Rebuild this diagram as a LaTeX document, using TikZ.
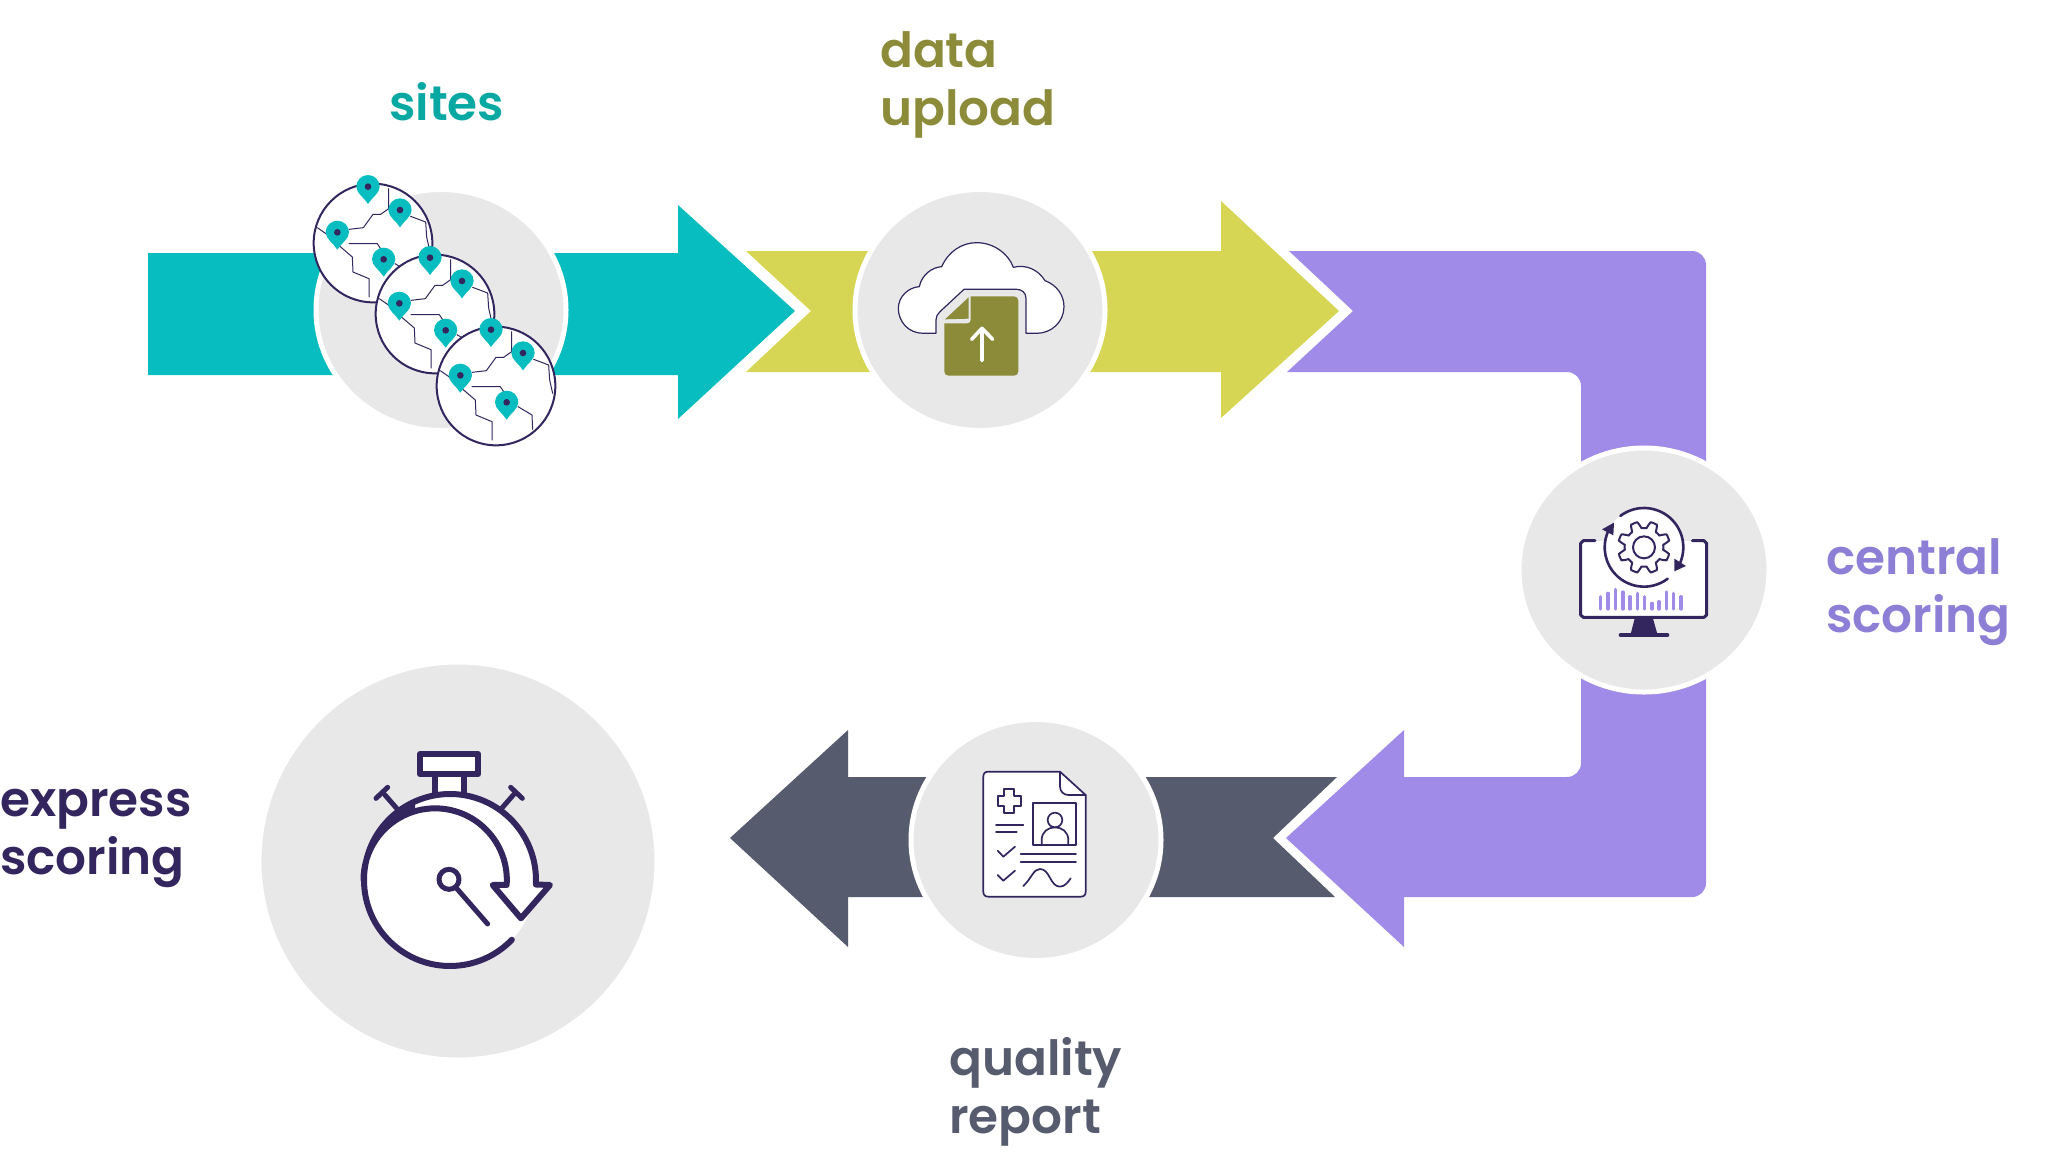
\documentclass[tikz,border=0pt]{standalone}
\usepackage{fontspec}
\setmainfont{Poppins}[BoldFont=Poppins SemiBold]
\usetikzlibrary{shapes.geometric}
\definecolor{tealband}{HTML}{08BDBF}
\definecolor{tealtext}{HTML}{0AA8A2}
\definecolor{limeband}{HTML}{D6D654}
\definecolor{olivetext}{HTML}{8B8B3A}
\definecolor{purpleband}{HTML}{A18BE8}
\definecolor{purpletext}{HTML}{8E7FD6}
\definecolor{slateband}{HTML}{565B6E}
\definecolor{navyline}{HTML}{33265F}
\definecolor{hubgray}{HTML}{E8E8E8}
\tikzset{
    hub/.style={ellipse, fill=hubgray, draw=white, line width=5pt, inner sep=0pt},
    steplabel/.style={anchor=west, align=left, inner sep=0pt, font=\fontsize{48.5}{58}\selectfont\bfseries},
    iconline/.style={draw=navyline, line cap=round, line join=round},
    zoomed/.style={x=0.3333pt, y=-0.3333pt}
}
\begin{document}
\begin{tikzpicture}[x=1pt, y=-1pt]
    \useasboundingbox (0,0) rectangle (2048,1168);

    % Draw the bands
    \fill[tealband] (148,253) -- (678,253) -- (678,205) -- (795,311) -- (678,419) -- (678,375) -- (148,375) -- cycle;
    \fill[limeband] (746,251) -- (1221,251) -- (1221,201) -- (1339,311) -- (1221,418) -- (1221,372) -- (746,372) -- (811,311) -- cycle;
    \fill[purpleband] (1289,251) [rounded corners=14pt] -- (1706,251) -- (1706,897) [sharp corners] -- (1404,897) -- (1404,947) -- (1286,838) -- (1404,730) -- (1404,777) [rounded corners=14pt] -- (1581,777) -- (1581,372) [sharp corners] -- (1287,372) -- (1353,311) -- cycle;
    \fill[slateband] (1337,777) -- (848,777) -- (848,730) -- (730,838) -- (848,947) -- (848,897) -- (1335,897) -- (1273,838) -- cycle;

    % Draw the hubs
    \node[hub, minimum width=250pt, minimum height=241pt] (sitesHub) at (441,310) {};
    \node[hub, minimum width=250pt, minimum height=241pt] (uploadHub) at (980,310) {};
    \node[hub, minimum width=250pt, minimum height=244pt] (centralHub) at (1644,570) {};
    \node[hub, minimum width=250pt, minimum height=241pt] (reportHub) at (1036,840) {};
    \node[hub, minimum width=398pt, minimum height=398pt] (expressHub) at (458,861) {};

    % Label the steps
    \node[steplabel, text=tealtext] (sitesLabel) at (389,102) {sites};
    \node[steplabel, text=olivetext] (uploadLabel) at (880,85) {data\\upload};
    \node[steplabel, text=purpletext] (centralLabel) at (1826,592) {central\\scoring};
    \node[steplabel, text=navyline] (expressLabel) at (0,838) {express\\scoring};
    \node[steplabel, text=slateband] (reportLabel) at (949,1092) {quality\\report};

    % Three globes, each with its borders and four pins
    \foreach \gx/\gy in {373/243, 435/314, 496/386} {
        \begin{scope}[shift={(\gx,\gy)}, zoomed]
            \draw[iconline, fill=white, line width=2pt] (0,0) circle[radius=178];
            \draw[iconline, line width=1pt] (47,-163) -- (47,-103) -- (23,-86) -- (0,-86) -- (-29,-46) -- (-72,-41);
            \draw[iconline, line width=1pt] (113,-80) -- (158,-63) -- (161,-18) -- (170,22);
            \draw[iconline, line width=1pt] (-167,-46) -- (-127,-18) -- (-97,12) -- (-62,42) -- (-60,87) -- (-12,107) -- (-12,162);
            \draw[iconline, line width=1pt] (-72,2) -- (13,2) -- (23,17);
            \draw[iconline, line width=1pt] (66,62) -- (108,87) -- (110,130);
            \foreach \px/\py in {-15/-169, 81/-99, -107/-32, 32/49} {
                \fill[tealband] (\px,\py+52) .. controls (\px-12,\py+32) and (\px-35,\py+20) .. (\px-35,\py) arc[start angle=180, end angle=360, radius=35] .. controls (\px+35,\py+20) and (\px+12,\py+32) .. (\px,\py+52) -- cycle;
                \fill[navyline] (\px,\py) circle[radius=10];
            }
        \end{scope}
    }

    % Cloud with the uploaded sheet
    \begin{scope}[shift={(860,190)}, zoomed]
        \draw[iconline, fill=white, line width=1.2pt] (228,430) -- (190,430) .. controls (145,430) and (115,395) .. (115,355) .. controls (115,320) and (145,292) .. (178,290) .. controls (185,255) and (215,232) .. (245,230) .. controls (265,185) and (305,158) .. (350,158) .. controls (400,158) and (445,190) .. (460,232) .. controls (500,222) and (535,240) .. (555,272) .. controls (590,285) and (612,315) .. (612,350) .. controls (612,395) and (575,430) .. (530,430) -- (498,430) -- (498,325) .. controls (498,308) and (485,298) .. (470,298) -- (312,298) -- (240,365) .. controls (232,372) and (228,380) .. (228,390) -- cycle;
        \fill[olivetext] (332,319) -- (462,319) .. controls (470,319) and (475,325) .. (475,332) -- (475,544) .. controls (475,552) and (470,557) .. (462,557) -- (266,557) .. controls (258,557) and (253,552) .. (253,544) -- (253,400) -- (322,400) .. controls (328,400) and (332,396) .. (332,390) -- cycle;
        \fill[olivetext] (326,322) -- (326,386) -- (255,388) -- cycle;
        \draw[white, line width=3.6pt, line cap=round, line join=round] (366,512) -- (366,415) (335,448) -- (366,415) -- (398,448);
    \end{scope}

    % Monitor with the gear
    \begin{scope}[shift={(1530,460)}, zoomed]
        \fill[white] (152,242) rectangle (530,472);
        \fill[white] (342,262) circle[radius=118];
        \draw[iconline, line width=3pt] (195,242) -- (160,242) -- (152,250) -- (152,465) -- (160,472) -- (522,472) -- (530,465) -- (530,250) -- (522,242) -- (487,242);
        \fill[navyline] (315,472) -- (368,472) -- (382,522) -- (302,522) -- cycle;
        \draw[iconline, line width=4pt] (272,525) -- (412,525);
        \draw[iconline, line width=2pt] plot[domain=0:360, samples=145, smooth] ({342+(68-10*max(min(2*cos(8*\x),1),-1))*cos(\x)}, {262+(68-10*max(min(2*cos(8*\x),1),-1))*sin(\x)}) -- cycle;
        \draw[iconline, line width=2pt] (342,262) circle[radius=33];
        \draw[iconline, line width=2.6pt] (342,262) ++(-127:118) arc[start angle=-127, end angle=33, radius=118];
        \draw[iconline, line width=2.6pt] (342,262) ++(53:118) arc[start angle=53, end angle=210, radius=118];
        \fill[navyline] (433,296) -- (468,318) -- (433,334) -- cycle;
        \fill[navyline] (252,188) -- (216,208) -- (250,226) -- cycle;
        \foreach \bx/\bt in {212/407, 234/397, 257/385, 279/393, 300/407, 322/397, 344/407, 366/427, 387/422, 409/393, 431/397, 453/407} {
            \draw[purpleband, line width=3.3pt, line cap=round] (\bx,\bt+3) -- (\bx,447);
        }
    \end{scope}

    % Report sheet
    \begin{scope}[shift={(950,750)}, zoomed]
        \draw[iconline, fill=white, line width=1.7pt] (115,65) -- (330,65) -- (407,135) -- (407,425) .. controls (407,435) and (402,440) .. (392,440) -- (115,440) .. controls (105,440) and (100,435) .. (100,425) -- (100,80) .. controls (100,70) and (105,65) .. (115,65) -- cycle;
        \draw[iconline, line width=1.7pt] (330,65) -- (330,110) .. controls (330,125) and (342,135) .. (355,135) -- (407,135);
        \draw[iconline, line width=1.7pt] (163,118) -- (193,118) -- (193,138) -- (213,138) -- (213,168) -- (193,168) -- (193,190) -- (163,190) -- (163,168) -- (143,168) -- (143,138) -- (163,138) -- cycle;
        \draw[iconline, line width=1.7pt] (250,160) rectangle (377,285);
        \draw[iconline, line width=1.7pt] (315,210) circle[radius=22];
        \draw[iconline, line width=1.7pt] (275,285) -- (275,270) .. controls (275,245) and (295,232) .. (315,232) .. controls (335,232) and (355,245) .. (355,270) -- (355,285);
        \draw[iconline, line width=1.7pt] (138,225) -- (220,225) (138,247) -- (200,247);
        \draw[iconline, line width=1.7pt] (143,302) -- (160,320) -- (195,290) (143,375) -- (160,392) -- (195,362);
        \draw[iconline, line width=1.7pt] (212,312) -- (378,312) (212,335) -- (378,335);
        \draw[iconline, line width=1.7pt] (220,408) .. controls (245,385) and (250,357) .. (270,357) .. controls (300,357) and (300,410) .. (330,410) .. controls (345,410) and (355,395) .. (362,385);
    \end{scope}

    % Stopwatch with the return arrow
    \begin{scope}[shift={(340,730)}, zoomed]
        \draw[iconline, fill=white, line width=6pt] (240,72) rectangle (415,133);
        \draw[iconline, fill=white, line width=6pt] (285,133) rectangle (372,195);
        \draw[iconline, line width=5pt] (170,235) -- (135,195) (108,205) -- (143,172);
        \draw[iconline, line width=5pt] (485,235) -- (520,195) (512,172) -- (547,205);
        \fill[white] (330,450) circle[radius=258];
        \fill[white] (587,465) -- (630,465) -- (543,565) -- (458,465) -- cycle;
        \draw[iconline, line width=6pt] (330,450) ++(44:258) arc[start angle=44, end angle=363, radius=258] -- (630,465) -- (543,565) -- (458,465) -- (500,465) arc[start angle=4, end angle=-180, radius=215];
        \fill[navyline] (72,450) arc[start angle=180, end angle=246, radius=258] -- (226,241) arc[start angle=254, end angle=180, radius=215] -- cycle;
        \draw[iconline, line width=5pt] (327,448) circle[radius=30];
        \draw[iconline, line width=5pt] (350,475) -- (443,582);
    \end{scope}
\end{tikzpicture}
\end{document}
